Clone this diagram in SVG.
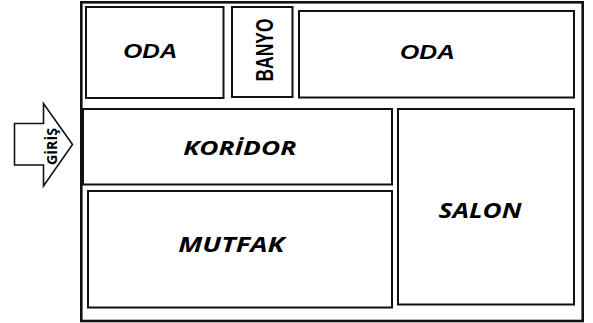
<svg xmlns="http://www.w3.org/2000/svg" width="593" height="323" viewBox="0 0 593 323">
<style>
.room{fill:#fff;stroke:#111;stroke-width:2}
.frame{fill:#fff;stroke:#111;stroke-width:2.6}
.lbl1{font-family:"Liberation Sans",Arial,sans-serif;font-weight:bold;font-style:italic;fill:#000;text-anchor:middle}
.lbl2{font-family:"Open Sans","DejaVu Sans",sans-serif;font-weight:bold;font-style:italic;fill:#000;text-anchor:middle}
.entry{fill:#fff;stroke:#111;stroke-width:1.6;stroke-linejoin:miter}
.entrytxt{font-family:"Open Sans","DejaVu Sans",sans-serif;font-weight:bold;fill:#000;text-anchor:middle}
</style>
<rect width="593" height="323" fill="#fff"/>
<g id="house">
<rect class="frame" x="81.3" y="2.3" width="501.4" height="318.7"/>
</g>
<g id="oda1">
<rect class="room" x="86" y="7" width="137.5" height="91"/>
<text class="lbl1" x="150.3" y="58" font-size="19.5" textLength="54" lengthAdjust="spacingAndGlyphs">ODA</text>
</g>
<g id="banyo">
<rect class="room" x="232" y="7" width="60.5" height="90"/>
<text class="lbl1" style="font-style:normal" transform="translate(272.5,50) rotate(-90)" x="0" y="0" font-size="23" textLength="63" lengthAdjust="spacingAndGlyphs">BANYO</text>
</g>
<g id="oda2">
<rect class="room" x="299" y="11" width="275" height="86.5"/>
<text class="lbl1" x="427.5" y="59" font-size="19.5" textLength="55" lengthAdjust="spacingAndGlyphs">ODA</text>
</g>
<g id="koridor">
<rect class="room" x="83" y="109" width="309" height="75.5"/>
<text class="lbl2" x="239.7" y="155" font-size="20" textLength="113" lengthAdjust="spacingAndGlyphs">KORİDOR</text>
</g>
<g id="mutfak">
<rect class="room" x="88" y="191" width="304" height="116.5"/>
<text class="lbl2" x="231.2" y="251.7" font-size="21" textLength="106" lengthAdjust="spacingAndGlyphs">MUTFAK</text>
</g>
<g id="salon">
<rect class="room" x="398" y="109" width="176" height="195.5"/>
<text class="lbl2" x="480" y="218.3" font-size="21" textLength="83" lengthAdjust="spacingAndGlyphs">SALON</text>
</g>
<g id="giris">
<polygon class="entry" points="14.5,123.5 43.5,123.5 43.5,103.5 72.5,144.5 43.5,186 43.5,165 14.5,165"/>
<text class="entrytxt" transform="translate(57,146.5) rotate(-90)" x="0" y="0" font-size="14" textLength="37" lengthAdjust="spacingAndGlyphs">GİRİŞ</text>
</g>
<g id="connectors"></g>
</svg>
